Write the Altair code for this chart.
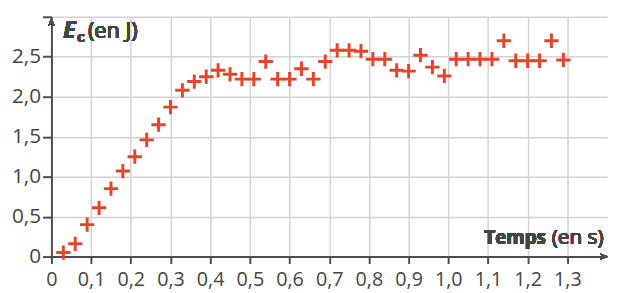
import altair as alt
import pandas as pd

# Data
temps = [round(0.03 * k, 2) for k in range(1, 44)]
energie = [0.05, 0.16, 0.40, 0.61, 0.85, 1.07, 1.25, 1.46, 1.65, 1.87,
           2.08, 2.19, 2.25, 2.33, 2.28, 2.22, 2.22, 2.44, 2.22, 2.22,
           2.35, 2.22, 2.44, 2.58, 2.58, 2.57, 2.47, 2.47, 2.33, 2.32,
           2.52, 2.37, 2.26, 2.47, 2.47, 2.47, 2.47, 2.70, 2.45, 2.45,
           2.45, 2.70, 2.46]
x_ticks = [round(0.1 * i, 1) for i in range(0, 14)]
y_ticks = [0, 0.5, 1.0, 1.5, 2.0, 2.5, 3.0]

df = pd.DataFrame({"t": temps, "Ec": energie})

W, H = 563, 243
FONT = "Open Sans"
TXT = "#454545"
AX = "#4d4d4d"
RED = "#e5452b"

xscale = alt.Scale(domain=[0, 1.4], nice=False)
yscale = alt.Scale(domain=[0, 3.0], nice=False)

lab = "datum.value == 0 ? '0' : replace(format(datum.value, '.1f'), '.', ',')"

points = alt.Chart(df).mark_point(
    shape="M-1,0L1,0M0,-1L0,1", filled=False, stroke=RED, strokeWidth=3,
    size=210, opacity=1, strokeCap="butt"
).encode(
    x=alt.X("t:Q", scale=xscale, axis=alt.Axis(
        values=x_ticks, title=None, grid=True, gridColor="#d3d3d3", gridWidth=1.5,
        domainColor=AX, domainWidth=2, tickColor=AX, tickWidth=2, tickSize=7,
        labelFont=FONT, labelFontSize=20, labelColor=TXT, labelPadding=6,
        labelExpr=lab, labelFlush=False, labelOverlap=False)),
    y=alt.Y("Ec:Q", scale=yscale, axis=alt.Axis(
        values=y_ticks, title=None, grid=True, gridColor="#d3d3d3", gridWidth=1.5,
        domainColor=AX, domainWidth=2, tickColor=AX, tickWidth=2, tickSize=9,
        labelFont=FONT, labelFontSize=21, labelColor=TXT, labelPadding=2,
        labelExpr="datum.value >= 3 ? '' : " + lab, labelFlush=False,
        labelOverlap=False)),
)

x_arrow = alt.Chart(df).mark_point(
    shape="M0,0L-1,-0.4L-0.75,0L-1,0.4Z", filled=True, fill=AX, size=256, opacity=1
).encode(x=alt.value(W + 1), y=alt.value(H))

y_arrow = alt.Chart(df).mark_point(
    shape="M0,0L-0.4,1L0,0.75L0.4,1Z", filled=True, fill=AX, size=256, opacity=1
).encode(x=alt.value(0), y=alt.value(1))

def txt(s, x, y, size, weight="normal", style="normal", align="left"):
    return alt.Chart(df).mark_text(
        text=s, font=FONT, fontSize=size, fontWeight=weight, fontStyle=style,
        color=TXT, align=align, baseline="alphabetic"
    ).encode(x=alt.value(x), y=alt.value(y))

t_E = txt("E", 12, 22, 23, "bold", "italic")
t_c = txt("c", 26, 26, 15, "bold")
t_unit = txt("(en J)", 37, 22, 22)
t_temps = txt("Temps", 501, 230, 19, "bold", align="right")
t_ens = txt("(en s)", 507, 230, 21)

chart = alt.layer(points, x_arrow, y_arrow, t_E, t_c, t_unit, t_temps, t_ens).properties(
    width=W, height=H,
    autosize=alt.AutoSizeParams(type="none"),
    padding={"left": 44, "top": 7, "right": 2, "bottom": 35},
).configure_view(stroke=None)

chart.save("out.html", embed_options={"renderer": "svg", "actions": False})
